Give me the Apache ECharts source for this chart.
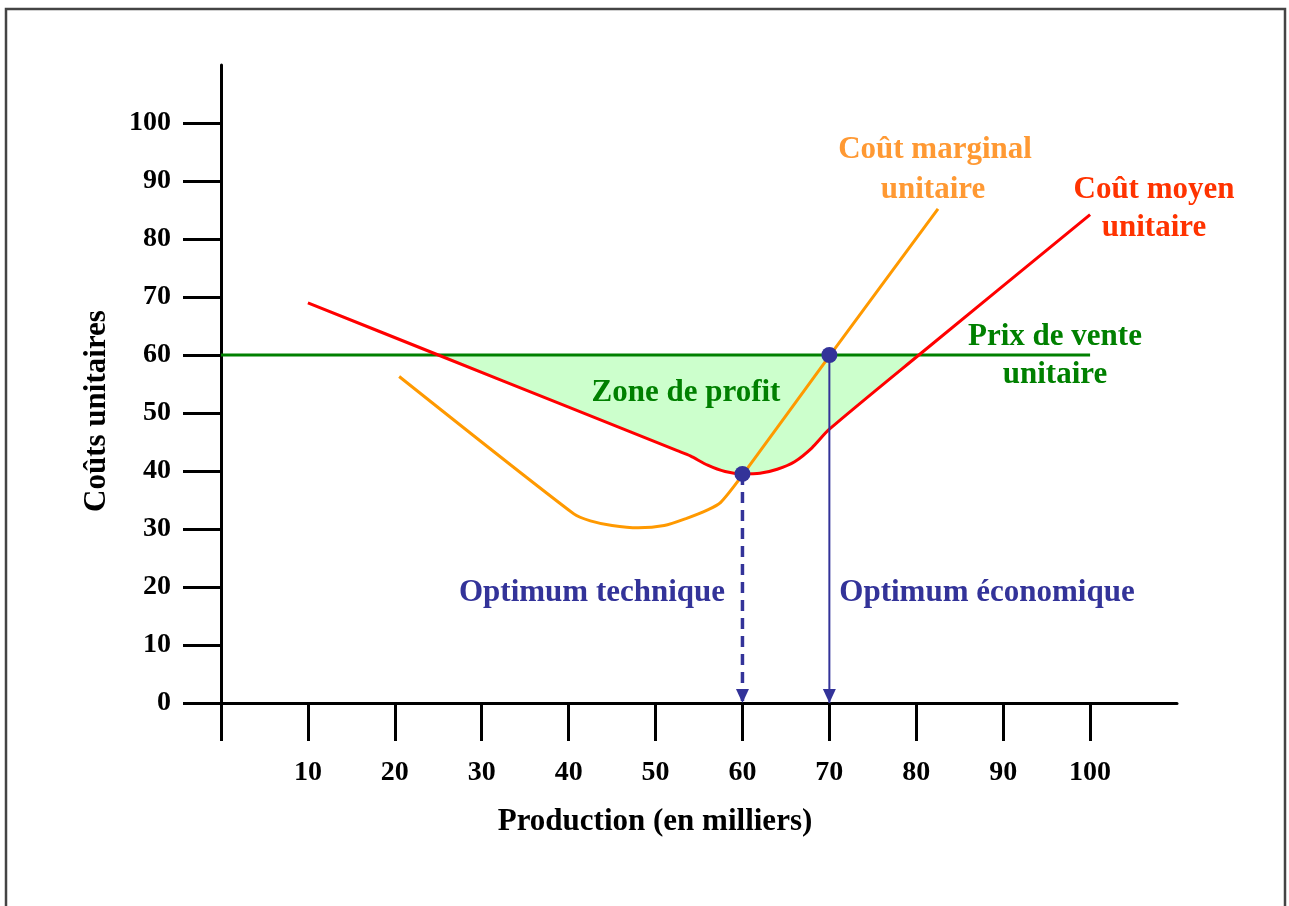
<!DOCTYPE html>
<html>
<head>
<meta charset="utf-8">
<script src="https://cdn.jsdelivr.net/npm/echarts@6/dist/echarts.min.js"></script>
<style>
  html, body { margin: 0; padding: 0; background: #fff; }
  #chart { width: 1289px; height: 906px; }
</style>
</head>
<body>
<div id="chart"></div>
<script>
// ---- data ----
const xTicks = [0, 10, 20, 30, 40, 50, 60, 70, 80, 90, 100];
const xTickLabels = [10, 20, 30, 40, 50, 60, 70, 80, 90, 100];
const yTicks = [0, 10, 20, 30, 40, 50, 60, 70, 80, 90, 100];
const yTickLabels = [0, 10, 20, 30, 40, 50, 60, 70, 80, 90, 100];

const sellingPrice = [[0, 60], [100, 60]];
const averageCost = [
  [10, 69], [25, 60], [40, 51], [52.5, 43.5], [54, 42.6], [56, 41], [58, 39.9],
  [60, 39.5], [62, 39.6], [64, 40.3], [66, 41.6], [68, 44], [70, 47.2],
  [80.3, 60], [100, 84.2]
];
const marginalCost = [
  [20.5, 56.3], [40.6, 32.6], [42.5, 31.4], [45, 30.6], [48, 30.2], [51, 30.6],
  [53.5, 31.8], [56, 33.3], [57.5, 34.6], [60, 39.3], [70, 59.8], [82.5, 85.2]
];
const optimumPoints = [[60, 39.5], [70, 60]];
const technicalOptimum = [[60, 39.5], [60, 0]];
const economicOptimum = [[70, 60], [70, 0]];
const profitRange = [25, 80.3];

// ---- styling ----
const FONT = '"Liberation Serif", "Times New Roman", serif';
const NAVY = '#333399';
const profitZone = averageCost.filter(p => p[0] >= profitRange[0] && p[0] <= profitRange[1]);

function arrowLine(points) {
  return points.map((p, i) => i === points.length - 1
    ? { value: p, symbol: 'triangle', symbolRotate: 180, symbolSize: [13, 14], symbolOffset: [0, -7] }
    : { value: p, symbol: 'none' });
}

const chart = echarts.init(document.getElementById('chart'), null, { renderer: 'canvas' });

function txt(text, x, y, color, extra) {
  return Object.assign({
    type: 'text', x: x, y: y, z: 100,
    style: {
      text: text, fill: color, align: 'center', verticalAlign: 'middle',
      font: 'bold 31px ' + FONT
    }
  }, extra || {});
}

const option = {
  animation: false,
  backgroundColor: '#fff',
  grid: { left: 221, right: 112, top: 65, bottom: 203, containLabel: false, outerBoundsMode: 'none' },
  xAxis: {
    type: 'value', min: 0, max: 110, interval: 10,
    axisLine: { show: true, onZero: true, lineStyle: { color: '#000', width: 3 } },
    axisTick: { show: true, inside: false, length: 38, customValues: xTicks, lineStyle: { color: '#000', width: 3 } },
    axisLabel: { show: true, customValues: xTickLabels, margin: 56, fontFamily: FONT, fontWeight: 'bold', fontSize: 28, color: '#000' },
    splitLine: { show: false }
  },
  yAxis: {
    type: 'value', min: 0, max: 110, interval: 10,
    axisLine: { show: true, lineStyle: { color: '#000', width: 3 } },
    axisTick: { show: true, inside: false, length: 38, customValues: yTicks, lineStyle: { color: '#000', width: 3 } },
    axisLabel: { show: true, customValues: yTickLabels, margin: 50, fontFamily: FONT, fontWeight: 'bold', fontSize: 28, color: '#000' },
    splitLine: { show: false }
  },
  series: [
    {
      name: 'Zone de profit', type: 'custom', z: 1, silent: true,
      data: [[60, 50]],
      renderItem: function (params, api) {
        const pts = profitZone.map(p => api.coord(p));
        return { type: 'polygon', shape: { points: pts, smooth: 0 }, style: { fill: '#ccffcc', stroke: 'none' } };
      }
    },
    {
      name: 'Prix de vente unitaire', type: 'line', z: 3, data: sellingPrice,
      symbol: 'none', lineStyle: { color: '#008000', width: 3 }, itemStyle: { color: '#008000' }
    },
    {
      name: 'Coût moyen unitaire', type: 'line', z: 4, data: averageCost, smooth: 0.25,
      symbol: 'none', lineStyle: { color: '#ff0000', width: 3 }, itemStyle: { color: '#ff0000' }
    },
    {
      name: 'Coût marginal unitaire', type: 'line', z: 5, data: marginalCost, smooth: 0.25,
      symbol: 'none', lineStyle: { color: '#ff9900', width: 3 }, itemStyle: { color: '#ff9900' }
    },
    {
      name: 'Optimum technique', type: 'line', z: 6, data: arrowLine(technicalOptimum),
      showSymbol: true, lineStyle: { color: NAVY, width: 3.5, type: [11, 7] }, itemStyle: { color: NAVY }
    },
    {
      name: 'Optimum économique', type: 'line', z: 6, data: arrowLine(economicOptimum),
      showSymbol: true, lineStyle: { color: NAVY, width: 2 }, itemStyle: { color: NAVY }
    },
    {
      name: 'Optimums', type: 'scatter', z: 8, data: optimumPoints,
      symbol: 'circle', symbolSize: 16, itemStyle: { color: NAVY, opacity: 1 }
    }
  ],
  graphic: [
    { type: 'rect', z: 200, silent: true, shape: { x: 6, y: 9, width: 1279, height: 930 },
      style: { fill: 'none', stroke: '#444', lineWidth: 2.5 } },
    txt('Coûts unitaires', 97, 411, '#000', { rotation: Math.PI / 2 }),
    txt('Production (en milliers)', 655, 822, '#000'),
    txt('Coût marginal', 935, 150, '#ff9933'),
    txt('unitaire', 933, 190, '#ff9933'),
    txt('Coût moyen', 1154, 190, '#ff3300'),
    txt('unitaire', 1154, 228, '#ff3300'),
    txt('Prix de vente', 1055, 337, '#008000'),
    txt('unitaire', 1055, 375, '#008000'),
    txt('Zone de profit', 686, 393, '#008000'),
    txt('Optimum technique', 592, 593, NAVY),
    txt('Optimum économique', 987, 593, NAVY)
  ]
};

chart.setOption(option);
</script>
</body>
</html>
